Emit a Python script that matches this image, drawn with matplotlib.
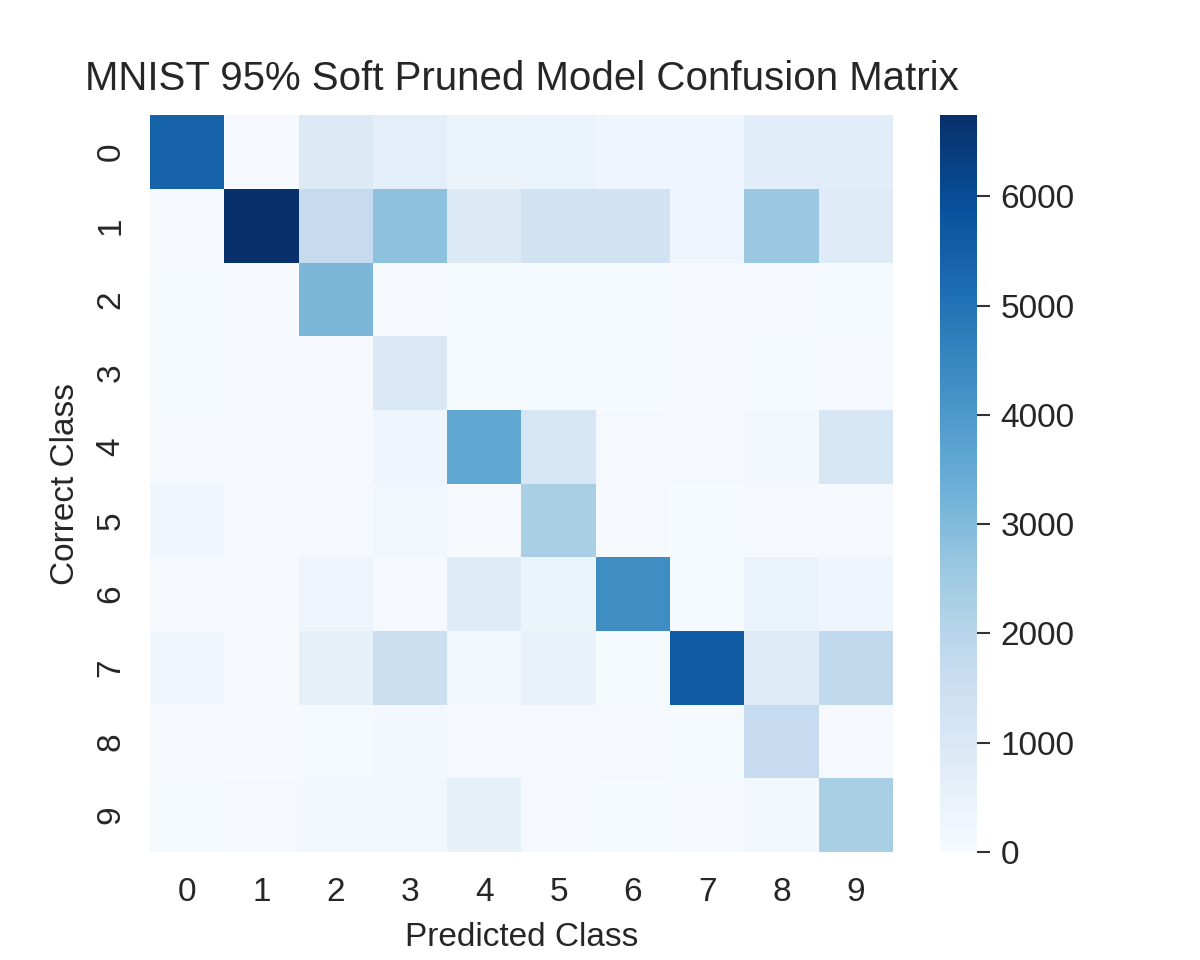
import numpy as np
import matplotlib
matplotlib.use("Agg")
import matplotlib.pyplot as plt
import seaborn as sns

classes = ["0", "1", "2", "3", "4", "5", "6", "7", "8", "9"]

row0 = [5400, 40, 900, 700, 400, 450, 300, 300, 750, 750]
row1 = [40, 6742, 1700, 2800, 900, 1300, 1300, 300, 2600, 800]
row2 = [60, 40, 3100, 80, 70, 60, 60, 80, 90, 60]
row3 = [60, 40, 80, 1000, 60, 70, 60, 80, 120, 90]
row4 = [50, 30, 100, 300, 3600, 1100, 80, 100, 200, 1100]
row5 = [250, 40, 80, 200, 80, 2300, 80, 60, 100, 80]
row6 = [80, 40, 350, 80, 800, 400, 4300, 60, 450, 300]
row7 = [250, 40, 600, 1500, 200, 500, 60, 5600, 800, 1800]
row8 = [80, 40, 120, 150, 100, 80, 80, 120, 1700, 80]
row9 = [120, 80, 150, 200, 600, 80, 60, 100, 150, 2300]

matrix = np.array([row0, row1, row2, row3, row4, row5, row6, row7, row8, row9])

sns.set_style("white")
plt.rcParams['font.family'] = ['Liberation Sans', 'DejaVu Sans']

fig = plt.figure(figsize=(12, 9.6), dpi=100)
ax = fig.add_axes([0.125, 0.1125, 0.619, 0.7675])
cax = fig.add_axes([0.783, 0.1125, 0.031, 0.7675])

sns.heatmap(matrix, cmap="Blues", ax=ax, cbar_ax=cax, vmin=0,
            xticklabels=classes, yticklabels=classes)

ax.set_title("MNIST 95% Soft Pruned Model Confusion Matrix", fontsize=29, pad=18)
ax.set_xlabel("Predicted Class", fontsize=24, labelpad=10)
ax.set_ylabel("Correct Class", fontsize=24, labelpad=10)
ax.tick_params(axis='x', labelsize=24, length=0, pad=18)
ax.tick_params(axis='y', labelsize=24, length=0, pad=17)
plt.setp(ax.get_yticklabels(), rotation=90, va='center')
plt.setp(ax.get_xticklabels(), rotation=0)

cax.tick_params(labelsize=24, length=9, width=1.5, color='#333333', pad=8)

plt.savefig("out.png", dpi=100)
